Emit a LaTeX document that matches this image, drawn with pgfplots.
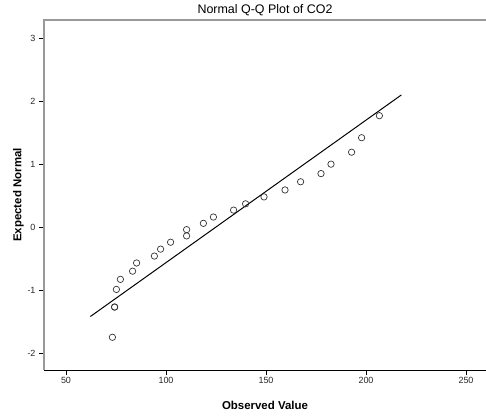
\documentclass[border=0pt]{standalone}
\usepackage{pgfplots}
\pgfplotsset{compat=1.18}
\usepackage{fontspec}
\setmainfont{Liberation Sans}
\begin{document}
\begin{tikzpicture}[x=1bp,y=1bp]
\path[use as bounding box] (-44bp,-46bp) rectangle (442bp,370bp);
\begin{axis}[
  at={(0,0)}, anchor=south west,
  scale only axis, width=442bp, height=350bp,
  xmin=39, xmax=260, ymin=-2.27, ymax=3.29,
  axis line style={draw=none},
  xtick={50,100,150,200,250}, ytick={-2,-1,0,1,2,3},
  tick align=outside, major tick length=5bp,
  tick style={black, line width=0.8pt},
  xtick pos=bottom, ytick pos=left,
  ticklabel style={font=\fontsize{9}{10}\selectfont, text=black!85},
  /pgf/number format/assume math mode=true,
  xticklabel style={yshift=1bp},
  xlabel={\bfseries Observed Value},
  ylabel={\bfseries Expected Normal},
  label style={font=\fontsize{11.5}{12}\selectfont},
  xlabel style={yshift=-10bp},
  ylabel style={yshift=-3bp},
  title={Normal Q-Q Plot of CO2},
  title style={font=\fontsize{12.5}{13}\selectfont, yshift=-5bp},
  clip=false,
]
\draw[gray!80, line width=1.2pt] (axis cs:39,-2.27) -- (axis cs:39,3.29) -- (axis cs:260,3.29);
\draw[black, line width=1pt] (axis cs:39,-2.27) -- (axis cs:260,-2.27);
\addplot[black, line width=1pt] coordinates {(62.2,-1.42) (217.7,2.10)};
\addplot[only marks, mark=o, mark size=3.2bp, mark options={black!80, line width=0.7pt}] coordinates {
(73.2,-1.75) (74.3,-1.27) (74.3,-1.27) (75.2,-0.99) (77.2,-0.83) (83.3,-0.70) (85.3,-0.57)
(94.2,-0.46) (97.3,-0.35) (102.3,-0.24) (110.3,-0.14) (110.3,-0.04) (118.7,0.06) (123.7,0.16)
(133.8,0.27) (139.8,0.37) (149.0,0.48) (159.5,0.59) (167.3,0.72) (177.5,0.85) (182.5,1.00)
(192.8,1.19) (197.8,1.42) (206.7,1.77)};
\end{axis}
\end{tikzpicture}
\end{document}
